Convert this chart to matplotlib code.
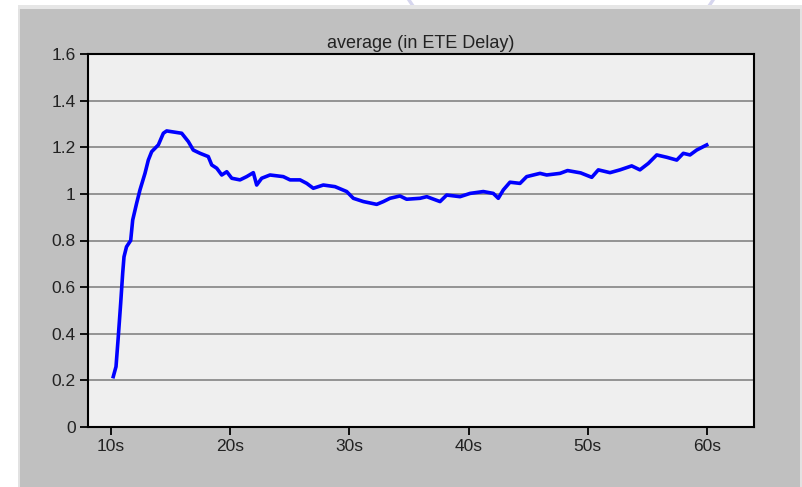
import matplotlib
matplotlib.use("Agg")
import matplotlib.pyplot as plt
from matplotlib.patches import Rectangle, Ellipse

plt.rcParams['font.family'] = ['Liberation Sans', 'DejaVu Sans']

# ---- data ----
time_s = [10.19, 10.42, 10.61, 10.81, 10.98, 11.09, 11.30, 11.65, 11.82, 12.15,
          12.43, 12.85, 13.13, 13.41, 13.97, 14.39, 14.67, 15.93, 16.49, 16.90,
          17.47, 18.16, 18.45, 18.87, 19.29, 19.71, 20.13, 20.82, 21.38, 21.94,
          22.22, 22.64, 23.34, 24.45, 25.02, 25.86, 26.42, 26.97, 27.81, 28.79,
          29.77, 30.33, 31.17, 32.29, 32.85, 33.40, 34.24, 34.80, 35.92, 36.49,
          37.60, 38.16, 39.28, 40.12, 41.23, 42.07, 42.49, 42.91, 43.47, 44.31,
          44.87, 45.99, 46.55, 47.67, 48.30, 49.40, 50.33, 50.88, 51.86, 52.70,
          53.68, 54.37, 55.08, 55.78, 56.62, 57.46, 58.01, 58.57, 59.13, 59.97]
delay = [0.216, 0.259, 0.387, 0.530, 0.660, 0.730, 0.773, 0.800, 0.888, 0.960,
         1.017, 1.088, 1.145, 1.181, 1.210, 1.260, 1.270, 1.260, 1.224, 1.188,
         1.174, 1.160, 1.124, 1.110, 1.081, 1.095, 1.067, 1.060, 1.074, 1.091,
         1.038, 1.067, 1.081, 1.074, 1.060, 1.060, 1.045, 1.024, 1.038, 1.031,
         1.010, 0.981, 0.967, 0.955, 0.967, 0.981, 0.991, 0.977, 0.981, 0.988,
         0.967, 0.995, 0.988, 1.002, 1.010, 1.002, 0.981, 1.017, 1.050, 1.045,
         1.074, 1.088, 1.081, 1.088, 1.100, 1.090, 1.071, 1.103, 1.091, 1.103,
         1.120, 1.103, 1.131, 1.167, 1.157, 1.145, 1.174, 1.167, 1.188, 1.210]
x_ticks = [10, 20, 30, 40, 50, 60]
x_labels = ['10s', '20s', '30s', '40s', '50s', '60s']
y_ticks = [0, 0.2, 0.4, 0.6, 0.8, 1.0, 1.2, 1.4, 1.6]
y_labels = ['0', '0.2', '0.4', '0.6', '0.8', '1', '1.2', '1.4', '1.6']
title = 'average (in ETE Delay)'

W, H = 803, 487
fig = plt.figure(figsize=(W / 100, H / 100), dpi=100, facecolor='white')

def px_rect(x0, y0, x1, y1, color, z):
    fig.add_artist(Rectangle((x0 / W, 1 - y1 / H), (x1 - x0) / W, (y1 - y0) / H,
                             transform=fig.transFigure, facecolor=color,
                             edgecolor='none', zorder=z))

# faint watermark arc peeking in at the top edge
fig.add_artist(Ellipse((561 / W, 1 + 100 / H), 364 / W, 364 / H,
                       transform=fig.transFigure, facecolor='none',
                       edgecolor='#d6d6ee', linewidth=2.4, zorder=0))
px_rect(18, 5, 803, 9, '#e6e6e6', 1)
px_rect(18, 9, 803, 487, '#e2e2e2', 1)
px_rect(20, 9, 800, 487, '#c0c0c0', 2)

ax = fig.add_axes([88 / W, (H - 427) / H, (754 - 88) / W, (427 - 54) / H])
ax.set_zorder(5)
ax.set_facecolor('#efefef')

ax.plot(time_s, delay, color='#0000ff', linewidth=2.6, solid_joinstyle='round',
        zorder=3)

ax.set_xlim(8.07, 63.94)
ax.set_ylim(0, 1.6)
ax.set_xticks(x_ticks)
ax.set_xticklabels(x_labels)
ax.set_yticks(y_ticks)
ax.set_yticklabels(y_labels)

for y in y_ticks[1:-1]:
    ax.axhline(y, color='#8c8c8c', linewidth=1.3, zorder=1)

for s in ax.spines.values():
    s.set_color('black')
    s.set_linewidth(1.5)

ax.tick_params(axis='both', direction='out', length=5.8, width=1.3,
               color='black', labelsize=12.5, labelcolor='#222222')
ax.tick_params(axis='x', pad=3)
ax.tick_params(axis='y', pad=3)

ax.set_title(title, fontsize=13, color='#222222', pad=4)

fig.savefig('out.png', dpi=100, facecolor=fig.get_facecolor())
